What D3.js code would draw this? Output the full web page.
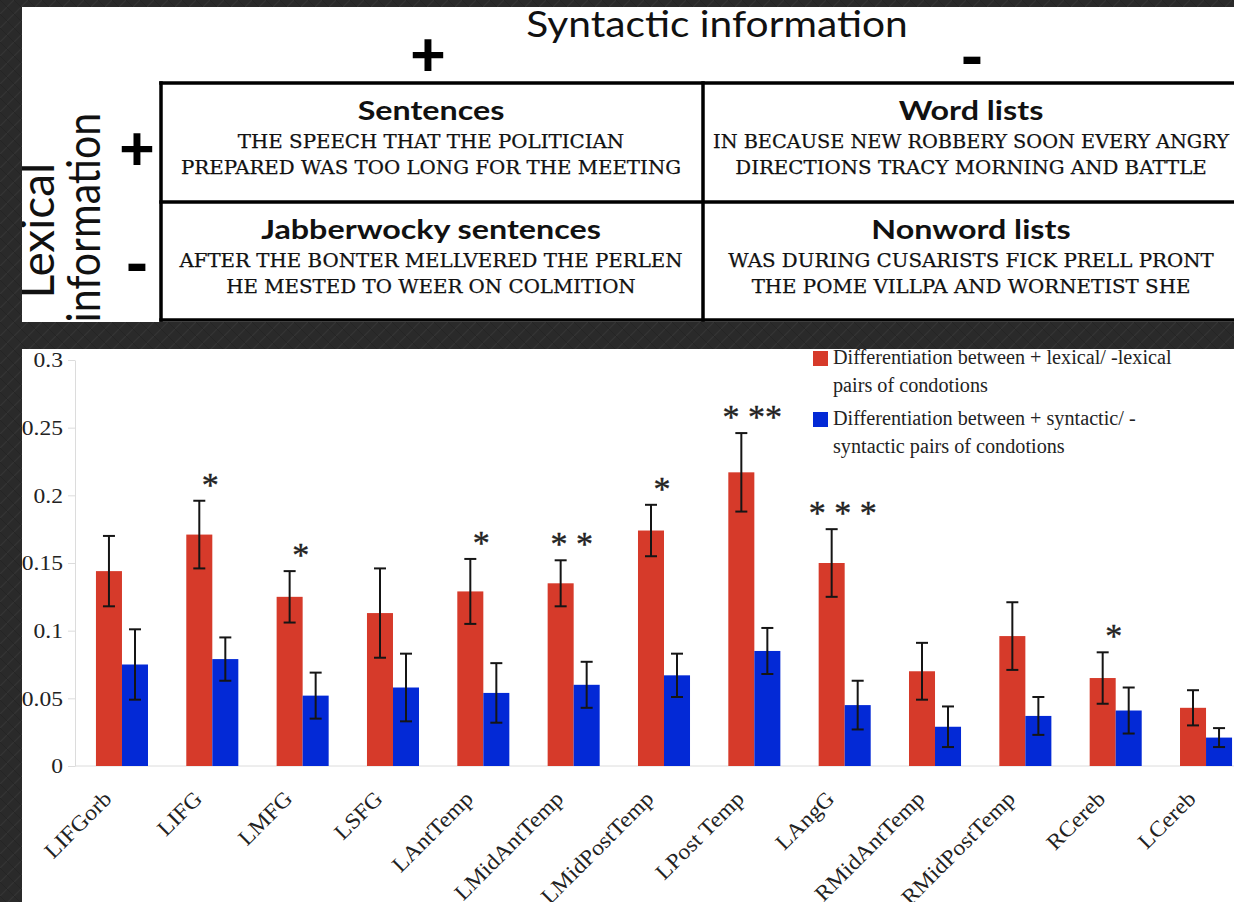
<!DOCTYPE html>
<html>
<head>
<meta charset="utf-8">
<script src="https://cdn.jsdelivr.net/npm/d3@7"></script>
<style>
  html, body { margin: 0; padding: 0; background: #2a2a2a; overflow: hidden; }
  svg { display: block; }
</style>
</head>
<body>
<svg id="fig" width="1234" height="902"></svg>
<script>
// ---- design: 2x2 conditions ----
const syntacticLevels = ["+", "-"];
const lexicalLevels = ["+", "-"];
const conditionTitles = ["Sentences", "Word lists", "Jabberwocky sentences", "Nonword lists"];
const conditionExamples = [
  ["THE SPEECH THAT THE POLITICIAN", "PREPARED WAS TOO LONG FOR THE MEETING"],
  ["IN BECAUSE NEW ROBBERY SOON EVERY ANGRY", "DIRECTIONS TRACY MORNING AND BATTLE"],
  ["AFTER THE BONTER MELLVERED THE PERLEN", "HE MESTED TO WEER ON COLMITION"],
  ["WAS DURING CUSARISTS FICK PRELL PRONT", "THE POME VILLPA AND WORNETIST SHE"]
];

// ---- bar chart data ----
const regions = ["LIFGorb", "LIFG", "LMFG", "LSFG", "LAntTemp", "LMidAntTemp", "LMidPostTemp",
                 "LPost Temp", "LAngG", "RMidAntTemp", "RMidPostTemp", "RCereb", "LCereb"];
const lexicalDiff   = [0.144, 0.171, 0.125, 0.113, 0.129, 0.135, 0.174, 0.217, 0.150, 0.070, 0.096, 0.065, 0.043];
const lexicalErr    = [0.026, 0.025, 0.019, 0.033, 0.024, 0.017, 0.019, 0.029, 0.025, 0.021, 0.025, 0.019, 0.013];
const syntacticDiff = [0.075, 0.079, 0.052, 0.058, 0.054, 0.060, 0.067, 0.085, 0.045, 0.029, 0.037, 0.041, 0.021];
const syntacticErr  = [0.026, 0.016, 0.017, 0.025, 0.022, 0.017, 0.016, 0.017, 0.018, 0.015, 0.014, 0.017, 0.007];
const significance  = ["", "*", "*", "", "*", "* *", "*", "* **", "* * *", "", "", "*", ""];
const yTicks = [0, 0.05, 0.1, 0.15, 0.2, 0.25, 0.3];
const yTickLabels = ["0", "0.05", "0.1", "0.15", "0.2", "0.25", "0.3"];
const seriesKeys = ["lexical", "syntactic"];
const seriesColors = ["#d63a2a", "#0329d6"];
const legendLines = [
  ["Differentiation between + lexical/ -lexical", "pairs of condotions"],
  ["Differentiation between + syntactic/ -", "syntactic pairs of condotions"]
];

const svg = d3.select("#fig");
const W = 1234, H = 902;

// scale text along its baseline by a factor of its natural width (optionally capped)
function stretch(sel, k, maxW) {
  sel.each(function () {
    let w = this.getComputedTextLength() * k;
    if (maxW) w = Math.min(w, maxW);
    d3.select(this).attr("textLength", w).attr("lengthAdjust", "spacingAndGlyphs");
  });
}

// ---- textured dark backdrop ----
const defs = svg.append("defs");
const pat = defs.append("pattern").attr("id", "tex").attr("width", 14).attr("height", 14)
  .attr("patternUnits", "userSpaceOnUse");
pat.append("rect").attr("width", 14).attr("height", 14).attr("fill", "#2a2a2a");
pat.append("path").attr("d", "M0,14 L14,0 M-3,3 L3,-3 M11,17 L17,11")
  .attr("stroke", "#343434").attr("stroke-width", 1.2);
pat.append("path").attr("d", "M0,0 L14,14").attr("stroke", "#252525").attr("stroke-width", 1);
svg.append("rect").attr("width", W).attr("height", H).attr("fill", "url(#tex)");

// ================= top panel: design table =================
const topPanel = { x: 22, y: 7, w: W - 22, h: 315 };
defs.append("clipPath").attr("id", "clipTop").append("rect")
  .attr("x", topPanel.x).attr("y", topPanel.y).attr("width", topPanel.w).attr("height", topPanel.h);
const gTop = svg.append("g").attr("clip-path", "url(#clipTop)");
gTop.append("rect").attr("x", topPanel.x).attr("y", topPanel.y).attr("width", topPanel.w).attr("height", topPanel.h).attr("fill", "#fff");

const table = { x0: 161, x1: 703, x2: 1241, y0: 83, y1: 202, y2: 320 };
const colX = d3.scaleBand().domain(syntacticLevels).range([table.x0, table.x2]).paddingInner(0);
const rowY = d3.scaleBand().domain(lexicalLevels).range([table.y0, table.y2]).paddingInner(0);

// grid lines
const gridPaths = [
  [table.x0, table.y0, table.x2, table.y0],
  [table.x0, table.y1, table.x2, table.y1],
  [table.x0, table.y2, table.x2, table.y2],
  [table.x0, table.y0, table.x0, table.y2],
  [table.x1, table.y0, table.x1, table.y2]
];
gTop.selectAll("line.grid").data(gridPaths).join("line")
  .attr("x1", d => d[0]).attr("y1", d => d[1]).attr("x2", d => d[2]).attr("y2", d => d[3])
  .attr("stroke", "#000").attr("stroke-width", 3.5).attr("stroke-linecap", "square");

// header: Syntactic information
const synTitle = gTop.append("text").attr("x", 717).attr("y", 37).attr("text-anchor", "middle")
  .attr("font-family", "Lato, 'Open Sans', sans-serif").attr("font-size", 37).attr("fill", "#111")
  .text("Syntactic information");
stretch(synTitle, 1.1);
gTop.selectAll("text.synlev").data(syntacticLevels).join("text").attr("class", "synlev")
  .attr("x", (d, i) => i === 0 ? 428 : 972).attr("y", (d, i) => i === 0 ? 76 : 80)
  .attr("text-anchor", "middle").attr("font-family", "Lato, sans-serif").attr("font-weight", 900)
  .attr("font-size", d => d === "+" ? 62 : 64).attr("fill", "#000").text(d => d);

// side header: Lexical information (rotated, reading upward)
const sideG = gTop.append("g").attr("font-family", "Lato, 'Open Sans', sans-serif").attr("fill", "#111");
sideG.append("text").attr("transform", "translate(54,163) rotate(-90)").attr("text-anchor", "end")
  .attr("font-size", 46).text("Lexical");
const infoText = sideG.append("text").attr("transform", "translate(100,113) rotate(-90)").attr("text-anchor", "end")
  .attr("font-size", 46).text("information");
stretch(infoText, 0.89);
gTop.selectAll("text.lexlev").data(lexicalLevels).join("text").attr("class", "lexlev")
  .attr("x", 137).attr("y", (d, i) => i === 0 ? 170 : 287)
  .attr("text-anchor", "middle").attr("font-family", "Lato, sans-serif").attr("font-weight", 900)
  .attr("font-size", d => d === "+" ? 62 : 64).attr("fill", "#000").text(d => d);

// cells
const cells = conditionTitles.map((t, i) => ({
  title: t, lines: conditionExamples[i],
  syn: syntacticLevels[i % 2], lex: lexicalLevels[Math.floor(i / 2)]
}));
const cellG = gTop.selectAll("g.cell").data(cells).join("g").attr("class", "cell")
  .attr("transform", d => `translate(${colX(d.syn) + colX.bandwidth() / 2},${rowY(d.lex)})`);
const titles = cellG.append("text").attr("text-anchor", "middle").attr("y", 37)
  .attr("font-family", "Lato, 'Open Sans', sans-serif").attr("font-weight", 700).attr("font-size", 26)
  .attr("fill", "#111").text(d => d.title);
stretch(titles, 1.24);
cellG.each(function (d) {
  d3.select(this).selectAll("text.ex").data(d.lines).join("text").attr("class", "ex")
    .attr("text-anchor", "middle").attr("y", (l, j) => 65 + j * 26)
    .attr("font-family", "'DejaVu Serif', serif").attr("font-size", 18).attr("fill", "#111")
    .attr("stroke", "#111").attr("stroke-width", 0.25)
    .text(l => l);
});
stretch(gTop.selectAll("text.ex"), 1.1, colX.bandwidth() - 24);

// ================= bottom panel: bar chart =================
const bot = { x: 22, y: 349, w: W - 22, h: H - 349 };
defs.append("clipPath").attr("id", "clipBot").append("rect")
  .attr("x", bot.x).attr("y", bot.y).attr("width", bot.w).attr("height", bot.h);
const gBot = svg.append("g").attr("clip-path", "url(#clipBot)");
gBot.append("rect").attr("x", bot.x).attr("y", bot.y).attr("width", bot.w).attr("height", bot.h).attr("fill", "#fff");

const y = d3.scaleLinear().domain([0, 0.3]).range([766, 360]);
const x = d3.scaleBand().domain(regions).range([76.8, 1251.2]).paddingInner(0.424).paddingOuter(0.212);
const xs = d3.scaleBand().domain(seriesKeys).range([0, x.bandwidth()]);
const axisX = 75;
const serif = "'Liberation Serif', 'Times New Roman', serif";

// y axis
const yAxis = gBot.append("g").attr("transform", `translate(${axisX},0)`)
  .call(d3.axisLeft(y).tickValues(yTicks).tickFormat((d, i) => yTickLabels[i]).tickSize(7).tickSizeOuter(0).tickPadding(5));
yAxis.select(".domain").attr("stroke", "#dcdcdc");
yAxis.selectAll(".tick line").attr("stroke", "#dcdcdc");
yAxis.selectAll(".tick text").attr("font-family", serif).attr("font-size", 21).attr("fill", "#222");
stretch(yAxis.selectAll(".tick text"), 1.12);

// x axis baseline and labels
const xAxis = gBot.append("g").attr("transform", `translate(0,${y(0)})`)
  .call(d3.axisBottom(x).tickSize(0));
xAxis.select(".domain").attr("stroke", "#dcdcdc").attr("d", `M${axisX},0H${W}`);
const xLabels = xAxis.selectAll(".tick text")
  .attr("font-family", serif).attr("font-size", 22).attr("fill", "#222")
  .attr("x", 0).attr("y", 0).attr("dy", 0).attr("text-anchor", "end")
  .attr("transform", "translate(-9,34) rotate(-45)");
stretch(xLabels, 1.08);

// bars
const rows = regions.map((r, i) => ({
  region: r, sig: significance[i],
  vals: [
    { key: "lexical", v: lexicalDiff[i], e: lexicalErr[i] },
    { key: "syntactic", v: syntacticDiff[i], e: syntacticErr[i] }
  ]
}));
const color = d3.scaleOrdinal().domain(seriesKeys).range(seriesColors);
const grp = gBot.selectAll("g.grp").data(rows).join("g").attr("class", "grp")
  .attr("transform", d => `translate(${x(d.region)},0)`);
grp.selectAll("rect").data(d => d.vals).join("rect")
  .attr("x", d => xs(d.key)).attr("width", xs.bandwidth())
  .attr("y", d => y(d.v)).attr("height", d => y(0) - y(d.v))
  .attr("fill", d => color(d.key));

// error bars
const cap = 6;
const mid = d => xs(d.key) + xs.bandwidth() / 2;
const eb = grp.selectAll("g.err").data(d => d.vals).join("g").attr("class", "err")
  .attr("stroke", "#151515").attr("stroke-width", 2);
eb.append("line").attr("x1", mid).attr("x2", mid)
  .attr("y1", d => y(d.v + d.e)).attr("y2", d => y(d.v - d.e));
eb.append("line").attr("x1", d => mid(d) - cap).attr("x2", d => mid(d) + cap)
  .attr("y1", d => y(d.v + d.e)).attr("y2", d => y(d.v + d.e));
eb.append("line").attr("x1", d => mid(d) - cap).attr("x2", d => mid(d) + cap)
  .attr("y1", d => y(d.v - d.e)).attr("y2", d => y(d.v - d.e));

// significance stars over the lexical error bar
grp.append("text").attr("x", x.bandwidth() / 2 - 2)
  .attr("y", d => y(d.vals[0].v + d.vals[0].e) - 5)
  .attr("text-anchor", "middle").attr("font-family", serif)
  .attr("font-size", 34).attr("fill", "#222").attr("stroke", "#222").attr("stroke-width", 0.4)
  .attr("xml:space", "preserve")
  .text(d => d.sig);

// legend
const leg = gBot.append("g").attr("transform", "translate(813,351)");
const legItem = leg.selectAll("g").data(seriesKeys).join("g")
  .attr("transform", (d, i) => `translate(0,${i * 61})`);
legItem.append("rect").attr("width", 15).attr("height", 15).attr("fill", d => color(d));
legItem.each(function (d, i) {
  d3.select(this).selectAll("text").data(legendLines[i]).join("text")
    .attr("x", 20).attr("y", (l, j) => 13 + j * 28)
    .attr("font-family", serif).attr("font-size", 20)
    .attr("fill", "#222").text(l => l);
});
stretch(leg.selectAll("text"), 1.01);
</script>
</body>
</html>
